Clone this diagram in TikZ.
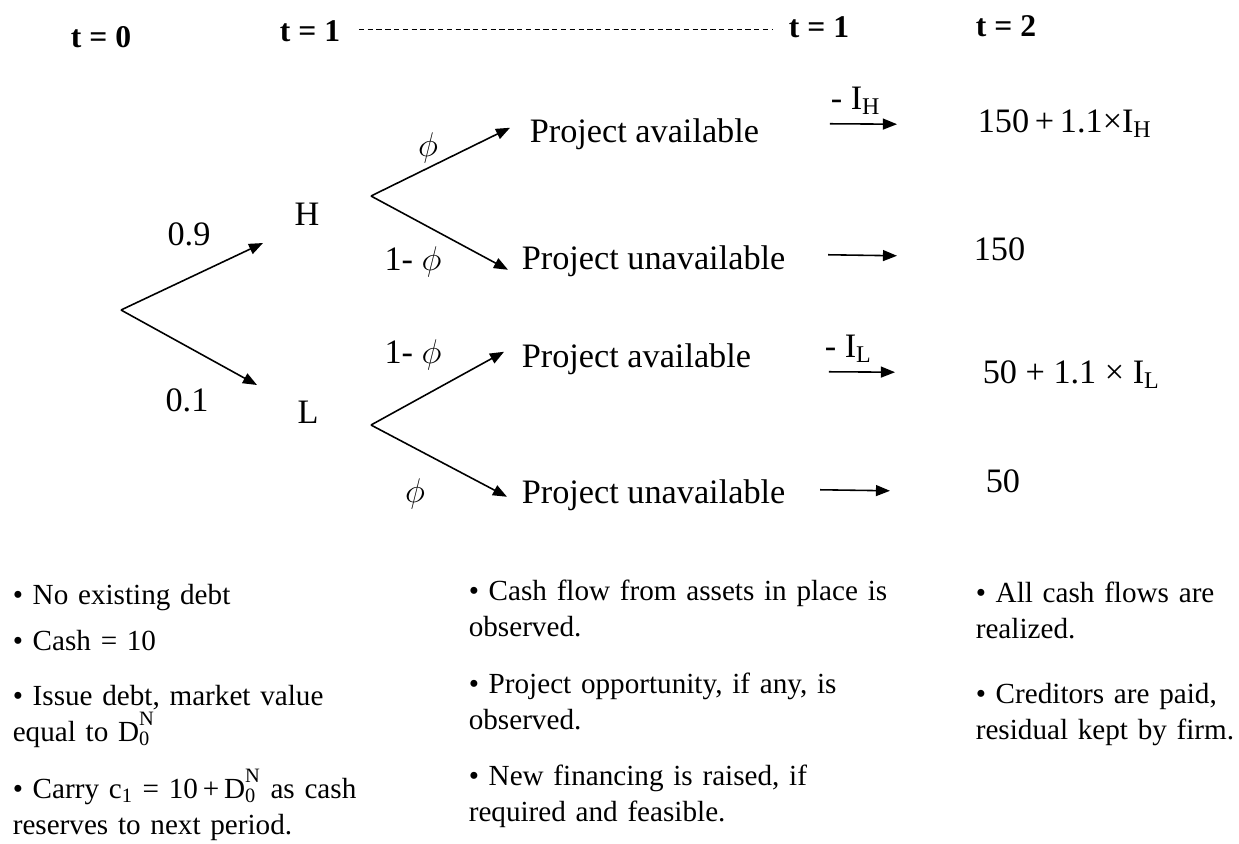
\RequirePackage{fix-cm}
\documentclass[tikz,border=0pt]{standalone}
\usepackage{fontspec}
\setmainfont{Liberation Serif}
\usetikzlibrary{arrows.meta}

\newcommand{\treefont}{\fontsize{19.5}{23}\selectfont}
\newcommand{\notefont}{\fontsize{16.6}{20.7}\selectfont}
\newcommand{\timefont}{\fontsize{18}{22}\selectfont\bfseries}
\newcommand{\DzeroN}{D\rlap{\textsubscript{0}}\raisebox{0.18em}{\textsuperscript{N}}}

\begin{document}
\begin{tikzpicture}[x=0.02cm, y=-0.02cm, line width=0.9pt, every node/.style={inner sep=0pt}]

\tikzset{
    timelbl/.style={font=\timefont, anchor=base},
    prob/.style={font=\treefont},
    outcome/.style={font=\treefont, anchor=base west},
    note/.style={font=\notefont, anchor=base west, text width=9cm, align=left},
    tip/.style={-{Triangle[length=8pt, width=6.2pt]}},
    dotline/.style={line width=0.8pt, dash pattern=on 3pt off 2pt}
}

\useasboundingbox (0,0) rectangle (1239,843);

% time line
\node[timelbl] (t0) at (101,47) {t = 0};
\node[timelbl] (t1a) at (310,41) {t = 1};
\node[timelbl] (t1b) at (819,37) {t = 1};
\node[timelbl] (t2) at (1006,36) {t = 2};
\draw[dotline] ([shift={(18,-1)}]t1a.east) -- ([shift={(-16,-1)}]t1a.east -| t1b.west);

% first split
\coordinate (root) at (121,310);
\node[prob] (H) at (307,214) {H};
\node[prob] (L) at (308,412) {L};
\draw[tip] (root) -- ([shift={(-44,29)}]H.center);
\draw[tip] (root) -- ([shift={(-51,-27)}]L.center);
\node[prob] (p09) at (189,234) {0.9};
\node[prob] (p01) at (187,400) {0.1};

% project or not
\coordinate (hfork) at (371,196);
\coordinate (lfork) at (371,425);
\node[outcome] (ha) at (529,142) {Project available};
\node[outcome] (hu) at (521,269) {Project unavailable};
\node[outcome] (la) at (521,367) {Project available};
\node[outcome] (lu) at (521,503) {Project unavailable};
\draw[tip] (hfork) -- ([shift={(-19,-6)}]ha.west);
\draw[tip] (hfork) -- ([shift={(-13,9)}]hu.west);
\draw[tip] (lfork) -- ([shift={(-17,-7)}]la.west);
\draw[tip] (lfork) -- ([shift={(-14,2)}]lu.west);
\node[prob] (phiha) at (428,148) {$\phi$};
\node[prob] (phihu) at (413,262) {1- $\phi$};
\node[prob] (phila) at (413,355) {1- $\phi$};
\node[prob] (philu) at (415,494) {$\phi$};

% payoffs at t = 2
\node[outcome] (hapay) at (977,132) {150\,+\,1.1×I\textsubscript{H}};
\node[outcome] (hupay) at (973,260) {150};
\node[outcome] (lapay) at (982,383) {50 + 1.1 × I\textsubscript{L}};
\node[outcome] (lupay) at (985,492) {50};
\draw[tip] ([shift={(70,-10)}]ha.east) -- ([shift={(-80,1)}]hapay.west);
\draw[tip] ([shift={(42,-6)}]hu.east) -- ([shift={(-76,7)}]hupay.west);
\draw[tip] ([shift={(77,13)}]la.east) -- ([shift={(-87,-2)}]lapay.west);
\draw[tip] ([shift={(34,-5)}]lu.east) -- ([shift={(-95,10)}]lupay.west);
\node[outcome] (invh) at (830,109) {- I\textsubscript{H}};
\node[outcome] (invl) at (824,357) {- I\textsubscript{L}};

% notes
\node[note] (n1) at (12,604) {• No existing debt};
\node[note] (n2) at (12,650) {• Cash = 10};
\node[note] (n3) at (12,705) {• Issue debt, market value\\equal to \DzeroN};
\node[note] (n4) at (12,798) {• Carry c\textsubscript{1} = 10\,+\,\DzeroN{} as cash\\reserves to next period.};
\node[note] (m1) at (468,600) {• Cash flow from assets in place is\\observed.};
\node[note] (m2) at (468,693) {• Project opportunity, if any, is\\observed.};
\node[note] (m3) at (468,785) {• New financing is raised, if\\required and feasible.};
\node[note] (r1) at (975,602) {• All cash flows are\\realized.};
\node[note] (r2) at (975,703) {• Creditors are paid,\\residual kept by firm.};

\end{tikzpicture}
\end{document}
